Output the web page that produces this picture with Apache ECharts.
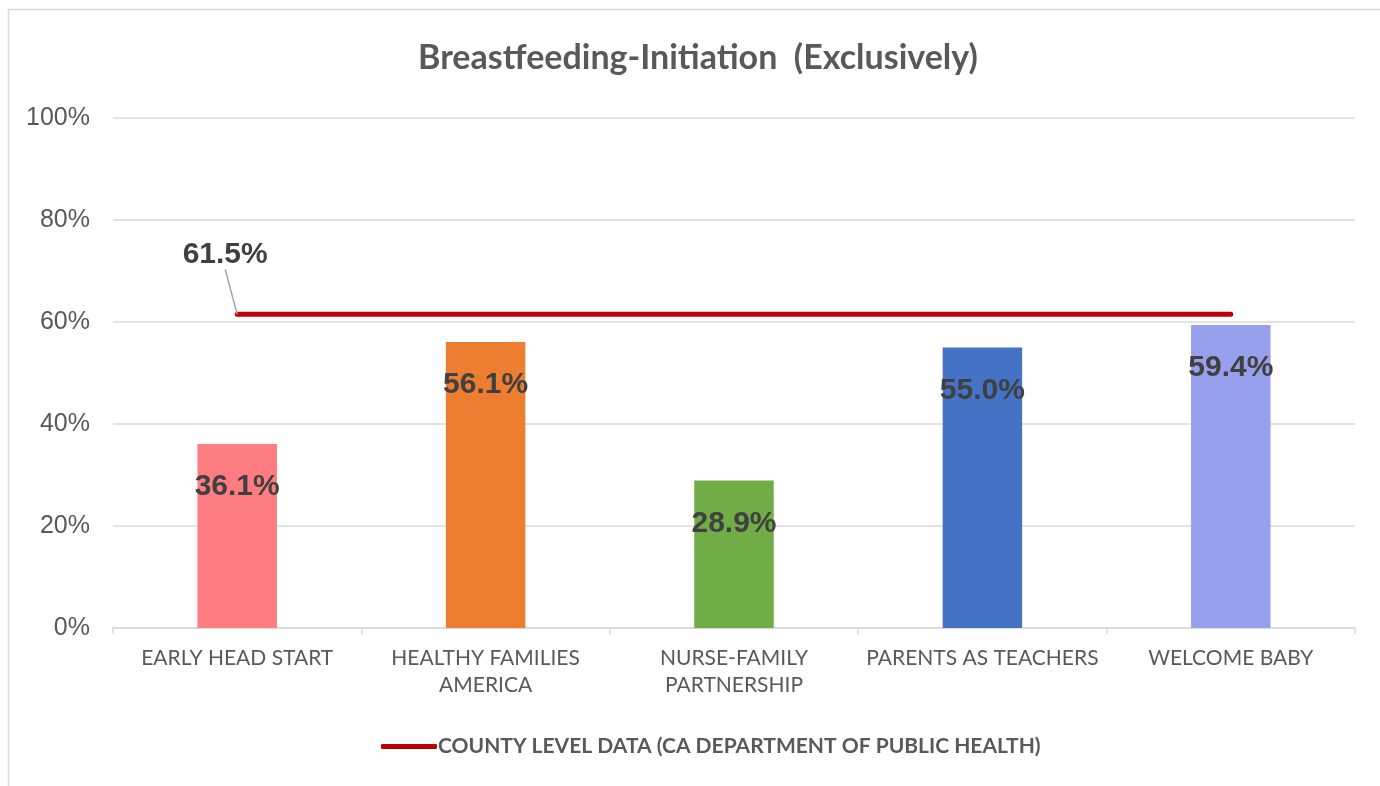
<!DOCTYPE html>
<html>
<head>
<meta charset="utf-8">
<script src="https://cdn.jsdelivr.net/npm/echarts@6/dist/echarts.min.js"></script>
<style>
  html, body { margin: 0; padding: 0; background: #fff; }
  #chart { width: 1380px; height: 786px; }
</style>
</head>
<body>
<div id="chart"></div>
<script>
const categories = ['EARLY HEAD START', 'HEALTHY FAMILIES\nAMERICA', 'NURSE-FAMILY\nPARTNERSHIP', 'PARENTS AS TEACHERS', 'WELCOME BABY']
const programValues = [36.1, 56.1, 28.9, 55.0, 59.4]
const barColors = ['#FF7C80', '#ED7D31', '#70AD47', '#4472C4', '#96A0EC']
const countyValues = [61.5, 61.5, 61.5, 61.5, 61.5]
const countyName = 'COUNTY LEVEL DATA (CA DEPARTMENT OF PUBLIC HEALTH)'

const myChart = echarts.init(document.getElementById('chart'))
let option

option = {
    animation: false,
    title: {
        text: 'Breastfeeding-Initiation  (Exclusively)',
        left: 693,
        textAlign: 'center',
        top: 36,
        textStyle: {
            fontFamily: 'Lato',
            fontWeight: 'bold',
            fontSize: 34,
            color: '#595959'
        }
    },
    graphic: [
        {
            type: 'rect',
            shape: { x: 8.5, y: 9.5, width: 1400, height: 800 },
            style: { fill: 'none', stroke: '#d9d9d9', lineWidth: 1.5 },
            silent: true
        }
    ],
    legend: {
        bottom: 24,
        left: 376,
        data: [countyName],
        icon: 'roundRect',
        itemWidth: 56,
        itemHeight: 5,
        itemGap: 2,
        textStyle: {
            fontFamily: 'Lato',
            fontWeight: 'bold',
            fontSize: 21,
            color: '#595959',
            padding: [0, 0, 0, -4]
        }
    },
    grid: {
        left: 113,
        right: 25,
        top: 118,
        bottom: 158
    },
    xAxis: {
        type: 'category',
        data: categories,
        axisLine: { lineStyle: { color: '#d9d9d9', width: 1.5 } },
        axisTick: { show: true, length: 6, lineStyle: { color: '#d9d9d9', width: 1.5 } },
        axisLabel: {
            interval: 0,
            fontFamily: 'Lato',
            fontSize: 21,
            color: '#595959',
            lineHeight: 27,
            margin: 17
        }
    },
    yAxis: {
        type: 'value',
        min: 0,
        max: 100,
        interval: 20,
        axisLine: { show: false },
        axisTick: { show: false },
        splitLine: { lineStyle: { color: '#d9d9d9', width: 1.5 } },
        axisLabel: {
            formatter: '{value}%',
            fontFamily: 'Liberation Sans',
            fontSize: 25,
            color: '#595959',
            margin: 23
        }
    },
    series: [
        {
            name: 'Programs',
            type: 'bar',
            barWidth: '32%',
            data: programValues.map((v, i) => ({ value: v, itemStyle: { color: barColors[i] } })),
            label: {
                show: true,
                position: 'insideTop',
                distance: 28,
                formatter: p => p.value.toFixed(1) + '%',
                fontFamily: 'Liberation Sans',
                fontWeight: 'bold',
                fontSize: 30,
                color: '#404040'
            }
        },
        {
            name: countyName,
            type: 'line',
            data: countyValues.map((v, i) => i === 0 ? { value: v, label: { show: true } } : v),
            showSymbol: true,
            symbol: 'circle',
            symbolSize: 0.1,
            lineStyle: { color: '#C00000', width: 5, cap: 'round' },
            itemStyle: { color: '#C00000' },
            label: {
                show: false,
                position: 'top',
                formatter: p => p.value.toFixed(1) + '%',
                fontFamily: 'Liberation Sans',
                fontWeight: 'bold',
                fontSize: 30,
                color: '#404040'
            },
            labelLayout: function (params) {
                if (params.dataIndex === 0) {
                    return { dx: -12, dy: -40 }
                }
            },
            labelLine: {
                show: true,
                lineStyle: { color: '#a6a6a6', width: 1.5 }
            }
        }
    ]
}

option && myChart.setOption(option)
</script>
</body>
</html>
